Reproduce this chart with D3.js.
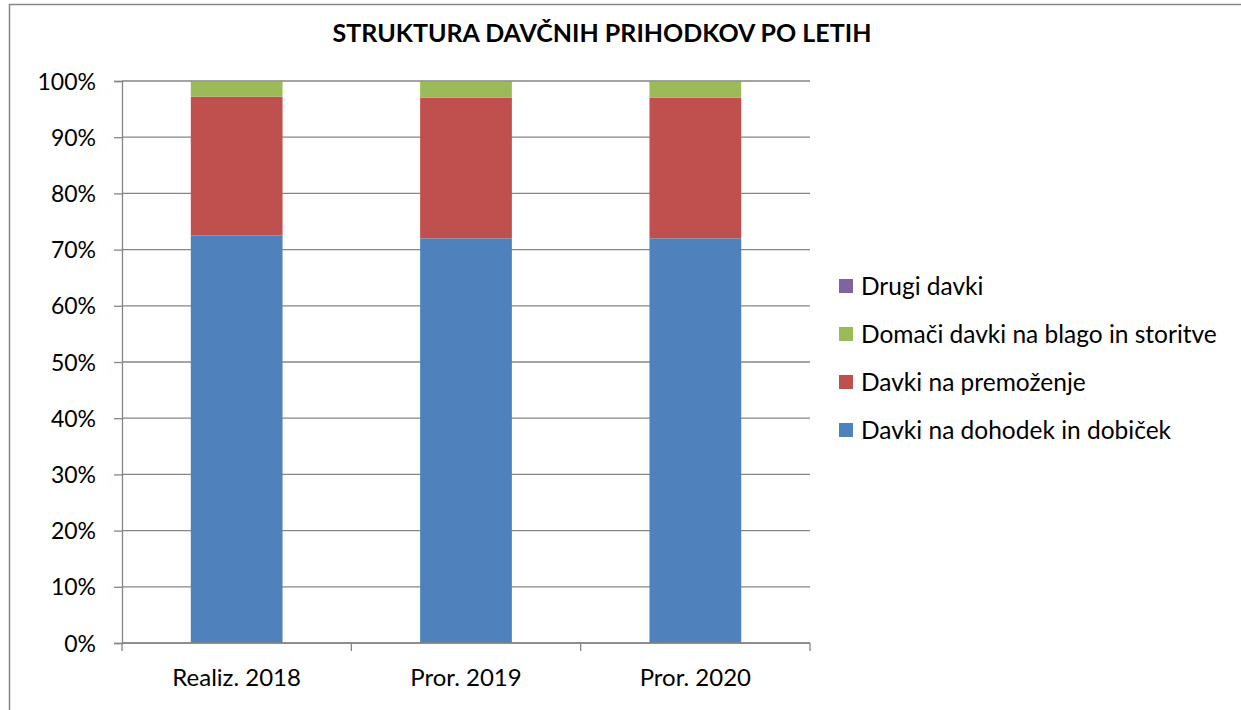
<!DOCTYPE html>
<html>
<head>
<meta charset="utf-8">
<script src="https://cdn.jsdelivr.net/npm/d3@7"></script>
<style>
  html, body { margin: 0; padding: 0; background: #fff; overflow: hidden; }
  svg { display: block; }
  svg text { font-family: Lato, "Open Sans", sans-serif; fill: #000; }
</style>
</head>
<body>
<div id="chart"></div>
<script>
// chart data (percent shares)
const categories = ["Realiz. 2018", "Pror. 2019", "Pror. 2020"];
const seriesNames = ["Davki na dohodek in dobiček", "Davki na premoženje", "Domači davki na blago in storitve", "Drugi davki"];
const dohodek = [72.5, 72.0, 72.0];
const premozenje = [24.7, 25.0, 25.0];
const domaci = [2.75, 2.95, 2.95];
const drugi = [0.05, 0.05, 0.05];
const yTicks = [0, 10, 20, 30, 40, 50, 60, 70, 80, 90, 100];
const colors = ["#4f81bd", "#c0504d", "#9bbb59", "#8064a2"];

const W = 1241, H = 710;
const margin = { top: 81, right: 431, bottom: 67, left: 122 };
const width = W - margin.left - margin.right;
const height = H - margin.top - margin.bottom;

const svg = d3.select("#chart").append("svg")
  .attr("width", W).attr("height", H);

// outer chart frame: only its left and top edges are in view
svg.append("path")
  .attr("d", `M9.5,${H}V4.5H${W}`)
  .attr("fill", "none").attr("stroke", "#868686").attr("stroke-width", 1.5);

svg.append("text")
  .attr("x", 602).attr("y", 42)
  .attr("text-anchor", "middle")
  .style("font-size", "25px").style("font-weight", "bold")
  .text("STRUKTURA DAVČNIH PRIHODKOV PO LETIH");

const g = svg.append("g").attr("transform", `translate(${margin.left},${margin.top})`);

const x = d3.scaleBand().domain(categories).range([0, width]).paddingInner(0.6).paddingOuter(0.3);
const xCat = d3.scaleBand().domain(categories).range([0, width]);
const y = d3.scaleLinear().domain([0, 100]).range([height, 0]);

// gridlines
g.selectAll(".grid").data(yTicks).enter().append("line")
  .attr("x1", 0).attr("x2", width)
  .attr("y1", d => y(d)).attr("y2", d => y(d))
  .attr("stroke", "#868686").attr("stroke-width", 1.3);

// stacked bars
const table = categories.map((c, i) => ({
  cat: c,
  [seriesNames[0]]: dohodek[i],
  [seriesNames[1]]: premozenje[i],
  [seriesNames[2]]: domaci[i],
  [seriesNames[3]]: drugi[i]
}));
const stacked = d3.stack().keys(seriesNames)(table);

g.selectAll(".layer").data(stacked).enter().append("g")
  .attr("fill", (d, i) => colors[i])
  .selectAll("rect").data(d => d).enter().append("rect")
  .attr("x", d => x(d.data.cat))
  .attr("width", x.bandwidth())
  .attr("y", d => y(d[1]))
  .attr("height", d => y(d[0]) - y(d[1]));

// y axis
const yAxis = g.append("g")
  .call(d3.axisLeft(y).tickValues(yTicks).tickFormat(d => d + "%").tickSize(8).tickPadding(18));
yAxis.selectAll("line, path").attr("stroke", "#868686").attr("stroke-width", 1.3);
yAxis.selectAll("text").style("font-size", "23px").style("font-family", "Lato, sans-serif").attr("dy", "0.35em");

// x axis
const xAxis = g.append("g").attr("transform", `translate(0,${height})`);
xAxis.append("line").attr("x1", 0).attr("x2", width).attr("y1", 0).attr("y2", 0)
  .attr("stroke", "#868686").attr("stroke-width", 1.3);
const boundaries = categories.map(c => xCat(c)).concat([width]);
xAxis.selectAll(".tk").data(boundaries).enter().append("line")
  .attr("x1", d => d).attr("x2", d => d).attr("y1", 0).attr("y2", 8)
  .attr("stroke", "#868686").attr("stroke-width", 1.3);
xAxis.selectAll(".lbl").data(categories).enter().append("text")
  .attr("x", d => xCat(d) + xCat.bandwidth() / 2)
  .attr("y", 43)
  .attr("text-anchor", "middle")
  .style("font-size", "24px")
  .text(d => d);

// legend
const legendOrder = seriesNames.map((n, i) => ({ name: n, color: colors[i] })).reverse();
const legend = svg.append("g").attr("transform", "translate(839,286)");
const li = legend.selectAll("g").data(legendOrder).enter().append("g")
  .attr("transform", (d, i) => `translate(0,${i * 48})`);
li.append("rect").attr("x", 0).attr("y", -7).attr("width", 14).attr("height", 14).attr("fill", d => d.color);
li.append("text").attr("x", 22).attr("y", 0).attr("dy", "0.35em")
  .style("font-size", "24.5px").text(d => d.name);
</script>
</body>
</html>
